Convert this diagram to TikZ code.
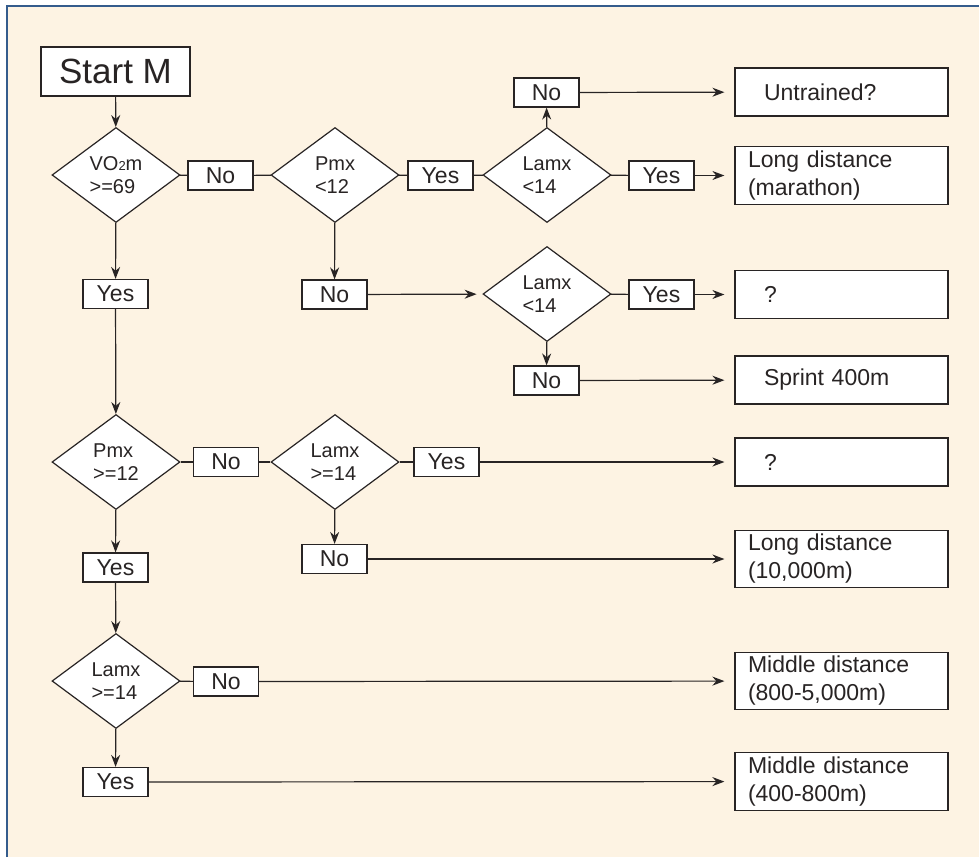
\documentclass[tikz,border=0pt]{standalone}
\usepackage{fontspec}
\setmainfont{Liberation Sans}
\usetikzlibrary{positioning, arrows.meta, shapes.geometric}
\definecolor{paper}{RGB}{253,243,227}
\definecolor{frame}{RGB}{52,92,140}
\definecolor{ink}{RGB}{40,36,36}

\begin{document}
\begin{tikzpicture}[
    x=0.5pt, y=-0.5pt,
    ink, line width=0.6pt,
    every node/.style={draw=ink, fill=white, text=ink, inner sep=0pt},
    answer/.style={rectangle, minimum width=32.5pt, minimum height=14.5pt, font=\fontsize{11.5}{14}\selectfont},
    decision/.style={diamond, minimum width=64pt, minimum height=47.5pt, align=left, font=\fontsize{10}{11.5}\selectfont},
    outcome/.style={rectangle, minimum height=24pt, text width=77.5pt, inner xsep=14.5pt, align=left, font=\fontsize{11.5}{14}\selectfont},
    outcometwo/.style={rectangle, minimum height=28.75pt, text width=93.5pt, inner xsep=6.5pt, align=left, font=\fontsize{11.5}{14}\selectfont},
    arrow/.style={-{Stealth[length=6pt, width=4.5pt]}},
    toresult/.style={arrow, shorten >=5pt}
]
\useasboundingbox (0,0) rectangle (979,857);
\fill [paper] (7,6) rectangle (979,857);
\draw [frame, line width=1pt] (7,857) -- (7,6) -- (979,6);

% first test
\node (start) [rectangle, minimum width=74.5pt, minimum height=24.5pt, font=\fontsize{17.5}{20}\selectfont] at (115.5,71.5) {Start M};
\node (vo2) [decision] at (116,175) {VO{\fontsize{6.5}{7}\selectfont 2}m\\>=69};
\node (vo2no) [answer] at (220.5,175.5) {No};
\node (vo2yes) [answer] at (115.5,294) {Yes};

% VO2m no branch
\node (pmxlow) [decision] at (335,175) {Pmx\\<12};
\node (pmxlowyes) [answer] at (440.5,175.5) {Yes};
\node (pmxlowno) [answer] at (334.5,294.5) {No};
\node (lamxa) [decision] at (547,175) {Lamx\\<14};
\node (lamxano) [answer] at (546.5,92.5) {No};
\node (lamxayes) [answer] at (661.5,175.5) {Yes};
\node (untrained) [outcome] at (841.5,92) {Untrained?};
\node (marathon) [outcometwo] at (841.5,175.5) {Long distance\\(marathon)};
\node (lamxb) [decision] at (547,294) {Lamx\\<14};
\node (lamxbyes) [answer] at (661.5,294.5) {Yes};
\node (lamxbno) [answer] at (546.5,380.5) {No};
\node (unknowna) [outcome] at (841.5,294.5) {?};
\node (sprint) [outcome] at (841.5,380) {Sprint 400m};

% VO2m yes branch
\node (pmxhigh) [decision] at (116,462) {Pmx\\>=12};
\node (pmxhighno) [answer] at (226,462) {No};
\node (pmxhighyes) [answer] at (115.5,567.5) {Yes};
\node (lamxc) [decision] at (335,462) {Lamx\\>=14};
\node (lamxcyes) [answer] at (446.5,462) {Yes};
\node (lamxcno) [answer] at (334.5,559) {No};
\node (unknownb) [outcome] at (841.5,462) {?};
\node (tenk) [outcometwo] at (841.5,559) {Long distance\\(10,000m)};
\node (lamxd) [decision] at (116,681) {Lamx\\>=14};
\node (lamxdno) [answer] at (226,681.5) {No};
\node (lamxdyes) [answer] at (115.5,782) {Yes};
\node (middle) [outcometwo] at (841.5,681) {Middle distance\\(800-5,000m)};
\node (short) [outcometwo] at (841.5,781.5) {Middle distance\\(400-800m)};

\draw [arrow] (start) -- (vo2);
\draw (vo2) -- (vo2no) -- (pmxlow);
\draw [arrow] (vo2) -- (vo2yes);
\draw (pmxlow) -- (pmxlowyes) -- (lamxa);
\draw [arrow] (lamxa) -- (lamxano);
\draw [toresult] (lamxano) -- (untrained);
\draw (lamxa) -- (lamxayes);
\draw [toresult] (lamxayes) -- (marathon);
\draw [arrow] (pmxlow) -- (pmxlowno);
\draw [arrow, shorten >=3pt] (pmxlowno) -- (lamxb);
\draw (lamxb) -- (lamxbyes);
\draw [toresult] (lamxbyes) -- (unknowna);
\draw [arrow] (lamxb) -- (lamxbno);
\draw [toresult] (lamxbno) -- (sprint);
\draw [arrow] (vo2yes) -- (pmxhigh);
\draw (pmxhigh) -- (pmxhighno) -- (lamxc);
\draw (lamxc) -- (lamxcyes);
\draw [toresult] (lamxcyes) -- (unknownb);
\draw [arrow] (lamxc) -- (lamxcno);
\draw [toresult] (lamxcno) -- (tenk);
\draw [arrow] (pmxhigh) -- (pmxhighyes);
\draw [arrow] (pmxhighyes) -- (lamxd);
\draw (lamxd) -- (lamxdno);
\draw [toresult] (lamxdno) -- (middle);
\draw [arrow] (lamxd) -- (lamxdyes);
\draw [toresult] (lamxdyes) -- (short);
\end{tikzpicture}
\end{document}
